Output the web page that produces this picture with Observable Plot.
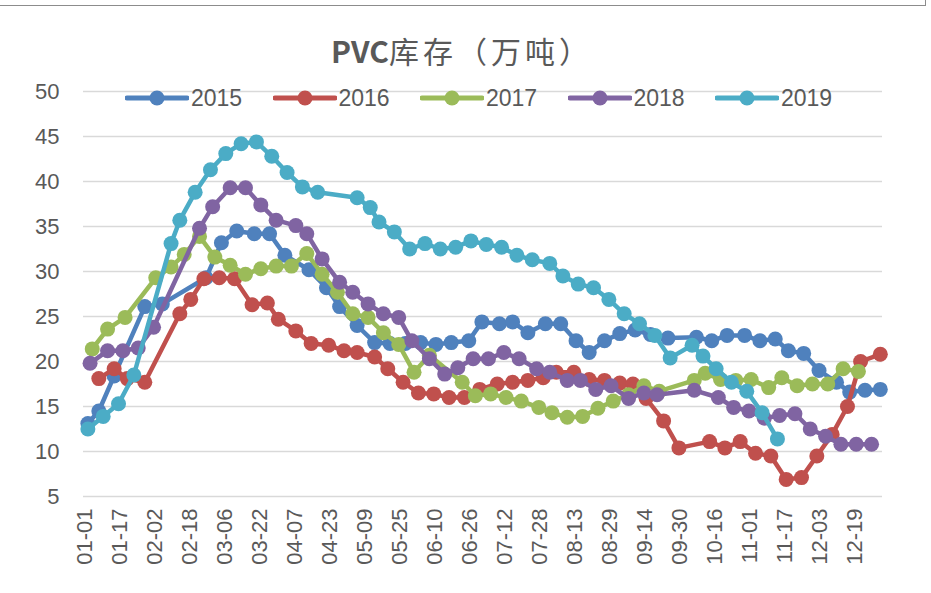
<!DOCTYPE html>
<html><head><meta charset="utf-8">
<script src="https://cdn.jsdelivr.net/npm/d3@7"></script>
<script src="https://cdn.jsdelivr.net/npm/@observablehq/plot@0.6"></script>
<style>
body{margin:0;background:#fff;}
#wrap{position:relative;width:931px;height:593px;overflow:hidden;font-family:"Liberation Sans",Arial,sans-serif;background:#fff;}
#topline{position:absolute;left:0;top:5px;width:926px;height:1px;background:#8c8c8c;}
#rightline{position:absolute;left:925px;top:0;width:1px;height:6px;background:#8c8c8c;}
#title{position:absolute;left:331px;top:35px;font-family:"Noto Sans CJK SC",sans-serif;font-size:30px;line-height:30px;color:#595959;letter-spacing:4px;white-space:nowrap;}
#title b{font-weight:bold;letter-spacing:0;}
.leg{position:absolute;top:86px;height:24px;display:flex;align-items:center;color:#595959;font-size:23px;}
.leg svg{margin-right:2px;}
#chart{position:absolute;left:0;top:0;}
</style>
</head><body>
<div id="wrap">
  <div id="chart"></div>
  <div id="topline"></div><div id="rightline"></div>
  <div id="title"><b>PVC</b>库存（万吨）</div>
</div>
<script>
const titleText = "PVC库存（万吨）";
const seriesNames = ["2015","2016","2017","2018","2019"];
const colors = ["#4F81BD","#C0504D","#9BBB59","#8064A2","#4BACC6"];
const yTicks = [5,10,15,20,25,30,35,40,45,50];
const xTickLabels = ["01-01","01-17","02-02","02-18","03-06","03-22","04-07","04-23","05-09","05-25","06-10","06-26","07-12","07-28","08-13","08-29","09-14","09-30","10-16","11-01","11-17","12-03","12-19"];

const dates2015 = ["01-01","01-06","01-13","01-27","02-04","02-24","03-03","03-10","03-18","03-25","04-01","04-12","04-20","04-26","05-04","05-12","05-19","05-26","06-02","06-09","06-16","06-24","06-30","07-08","07-14","07-21","07-29","08-05","08-12","08-18","08-25","09-01","09-08","09-15","09-23","10-06","10-13","10-20","10-28","11-04","11-11","11-17","11-24","12-01","12-09","12-15","12-22","12-29"];
const values2015 = [13.1,14.5,18.4,26.1,26.4,29.3,33.2,34.5,34.2,34.2,31.8,30.2,28.2,26.1,24.0,22.1,22.0,22.0,22.1,21.9,22.1,22.3,24.4,24.2,24.4,23.2,24.2,24.2,22.3,21.0,22.3,23.1,23.5,23.0,22.6,22.7,22.3,22.9,22.9,22.3,22.5,21.2,20.9,19.0,17.7,16.6,16.8,16.9];

const dates2016 = ["01-06","01-13","01-19","01-27","02-12","02-17","02-23","03-02","03-09","03-17","03-24","03-29","04-06","04-13","04-21","04-28","05-04","05-12","05-18","05-25","06-01","06-08","06-15","06-22","06-29","07-07","07-14","07-21","07-28","08-03","08-11","08-18","08-25","09-01","09-07","09-13","09-21","09-28","10-12","10-19","10-26","11-02","11-09","11-16","11-23","11-30","12-07","12-14","12-20","12-29"];
const values2016 = [18.1,19.2,18.1,17.7,25.3,26.9,29.2,29.3,29.2,26.3,26.5,24.7,23.4,22.0,21.8,21.2,21.0,20.5,19.2,17.7,16.5,16.4,16.0,16.0,16.9,17.5,17.7,17.9,18.2,18.8,18.8,18.0,17.9,17.6,17.5,15.9,13.4,10.4,11.1,10.4,11.1,9.8,9.5,6.9,7.1,9.5,11.9,15.0,20.0,20.8];

const dates2017 = ["01-03","01-10","01-18","02-01","02-08","02-14","02-21","02-28","03-07","03-14","03-21","03-28","04-04","04-11","04-18","04-25","05-02","05-09","05-16","05-23","05-30","06-06","06-21","06-27","07-04","07-11","07-18","07-26","08-01","08-08","08-15","08-22","08-29","09-05","09-12","09-19","10-05","10-10","10-17","10-24","10-31","11-08","11-14","11-21","11-28","12-05","12-12","12-19"];
const values2017 = [21.4,23.6,24.9,29.3,30.5,31.9,33.9,31.6,30.7,29.7,30.3,30.6,30.6,32.0,29.7,27.7,25.3,24.9,23.2,21.9,18.8,20.7,17.7,16.2,16.4,16.0,15.6,14.9,14.3,13.8,13.9,14.8,15.6,16.3,17.3,16.7,17.9,18.7,18.0,17.9,18.0,17.1,18.2,17.3,17.5,17.5,19.2,18.9];

const dates2018 = ["01-02","01-10","01-17","01-24","01-31","02-21","02-27","03-07","03-14","03-21","03-28","04-06","04-11","04-18","04-26","05-02","05-09","05-16","05-23","05-29","06-06","06-13","06-19","06-26","07-03","07-10","07-17","07-25","07-31","08-08","08-14","08-21","08-28","09-05","09-12","09-18","10-05","10-16","10-23","10-30","11-06","11-13","11-20","11-27","12-04","12-11","12-18","12-25"];
const values2018 = [19.8,21.2,21.2,21.5,23.8,34.8,37.2,39.3,39.3,37.4,35.7,35.1,34.2,31.4,28.8,27.7,26.4,25.3,24.9,22.3,20.3,18.6,19.3,20.3,20.3,21.0,20.3,19.2,18.8,17.9,17.9,16.9,17.3,15.9,16.5,16.3,16.8,16.0,14.9,14.5,13.7,14.0,14.2,12.5,11.7,10.8,10.8,10.8];

const dates2019 = ["01-01","01-08","01-15","01-22","02-08","02-12","02-19","02-26","03-05","03-12","03-19","03-26","04-02","04-09","04-16","05-04","05-10","05-14","05-21","05-28","06-04","06-11","06-18","06-25","07-02","07-09","07-16","07-23","07-31","08-06","08-13","08-20","08-27","09-03","09-10","09-17","09-24","10-04","10-09","10-15","10-22","10-29","11-05","11-12"];
const values2019 = [12.5,13.9,15.3,18.5,33.1,35.7,38.8,41.3,43.1,44.2,44.4,42.8,41.0,39.4,38.8,38.2,37.1,35.5,34.4,32.5,33.1,32.5,32.7,33.4,33.0,32.7,31.8,31.3,30.9,29.5,28.6,28.2,26.9,25.3,24.2,22.9,20.4,21.8,20.6,19.2,17.7,16.7,14.3,11.4];

const parse = d3.utcParse("%m-%d");
const allDates = [dates2015,dates2016,dates2017,dates2018,dates2019];
const allValues = [values2015,values2016,values2017,values2018,values2019];
const seriesData = seriesNames.map((name,i) => allDates[i].map((d,j) => ({year:name, date:parse(d), value:allValues[i][j]})));
const xTicks = xTickLabels.map(parse);

const marks = [
  Plot.gridY(yTicks, {stroke:"#d9d9d9", strokeOpacity:1, strokeWidth:1.5}),
  Plot.axisY(yTicks, {tickSize:0, tickPadding:24, fontSize:22, fill:"#595959", label:null}),
  Plot.axisX(xTicks, {tickSize:0, tickPadding:12, tickRotate:-90, tickFormat:"%m-%d", fontSize:22, fill:"#595959", label:null, dx:-3})
];
seriesData.forEach((data,i) => {
  marks.push(Plot.line(data, {x:"date", y:"value", stroke:colors[i], strokeWidth:4.5}));
  marks.push(Plot.dot(data, {x:"date", y:"value", fill:colors[i], r:7.5}));
});

const chart = Plot.plot({
  width:931, height:593,
  marginLeft:83, marginRight:49, marginTop:91, marginBottom:97,
  style:{fontFamily:"'Liberation Sans', Arial, sans-serif", background:"transparent", overflow:"visible"},
  x:{type:"utc", domain:[d3.utcDay.offset(parse("01-01"),-2), parse("12-30")], axis:null},
  y:{domain:[5,50], axis:null},
  marks
});
document.getElementById("chart").appendChild(chart);

const wrap = document.getElementById("wrap");
seriesNames.forEach((name,i) => {
  const div = document.createElement("div");
  div.className = "leg";
  div.style.left = (125 + 147.5*i) + "px";
  div.innerHTML = `<svg width="64" height="20"><line x1="2" y1="10" x2="62" y2="10" stroke="${colors[i]}" stroke-width="5" stroke-linecap="round"/><circle cx="32" cy="10" r="7.5" fill="${colors[i]}"/></svg><span>${name}</span>`;
  wrap.appendChild(div);
});
</script>
</body></html>
